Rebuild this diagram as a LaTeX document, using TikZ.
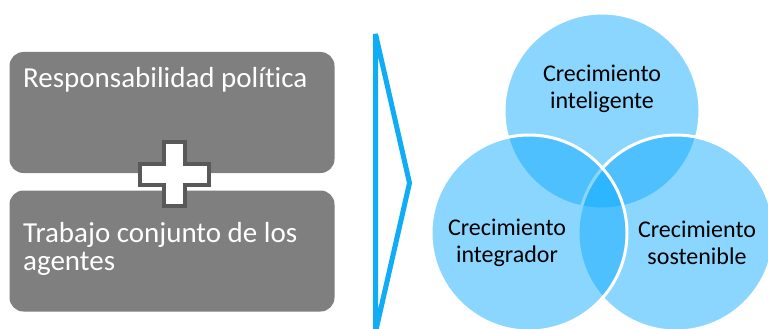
\documentclass[tikz,border=0pt]{standalone}
\usepackage{fontspec}
\setmainfont{Carlito}[Ligatures=NoCommon]
\usetikzlibrary{positioning}
\definecolor{boxgray}{RGB}{127,127,127}
\definecolor{plusgray}{RGB}{89,89,89}
\definecolor{chevblue}{RGB}{17,172,246}
\definecolor{vennblue}{RGB}{11,170,253}

\begin{document}
\begin{tikzpicture}[x=1pt,y=-1pt,
    box/.style={fill=boxgray,rounded corners=14pt,minimum width=325pt,minimum height=121pt,inner sep=0pt},
    boxtext/.style={text=white,font=\fontsize{29}{28}\selectfont,align=left,inner sep=0pt},
    venn/.style={circle,draw=white,line width=3pt,fill=vennblue,fill opacity=0.48,text opacity=1,minimum size=196pt,inner sep=0pt},
    venntext/.style={text=black,font=\fontsize{24}{27}\selectfont,align=center,inner sep=0pt}]
    \path[use as bounding box,fill=white] (0,0) rectangle (768,329);
    \clip (0,0) rectangle (768,329);

    % left side
    \node[box] (resp) at (172,112.5) {};
    \node[box] (trab) at (172,251) {};
    \node[boxtext,anchor=base west] (resptext) at (23,87) {Responsabilidad política};
    \node[boxtext,anchor=base west] (trabtext) at (23,270) {Trabajo conjunto de los\\agentes};

    % plus sign
    \draw[plusgray,line width=4pt,fill=white]
      (164,142) -- (185,142) -- (185,164) -- (209,164) -- (209,185) -- (185,185)
      -- (185,206) -- (164,206) -- (164,185) -- (140,185) -- (140,164) -- (164,164) -- cycle;

    % chevron
    \draw[chevblue,line width=5pt,line join=bevel] (375.5,34) -- (409.5,183) -- (375.5,332) -- cycle;

    % venn
    \node[venn] (intel) at (602,111) {};
    \node[venn] (sost) at (676,233) {};
    \node[venn] (integ) at (529,233) {};
    \node[venntext] (inteltext) at ([yshift=22pt]intel.center) {Crecimiento\\inteligente};
    \node[venntext] (integtext) at ([xshift=-22pt,yshift=-10pt]integ.center) {Crecimiento\\integrador};
    \node[venntext] (sosttext) at ([xshift=21pt,yshift=-10pt]sost.center) {Crecimiento\\sostenible};
  \end{tikzpicture}
\end{document}
